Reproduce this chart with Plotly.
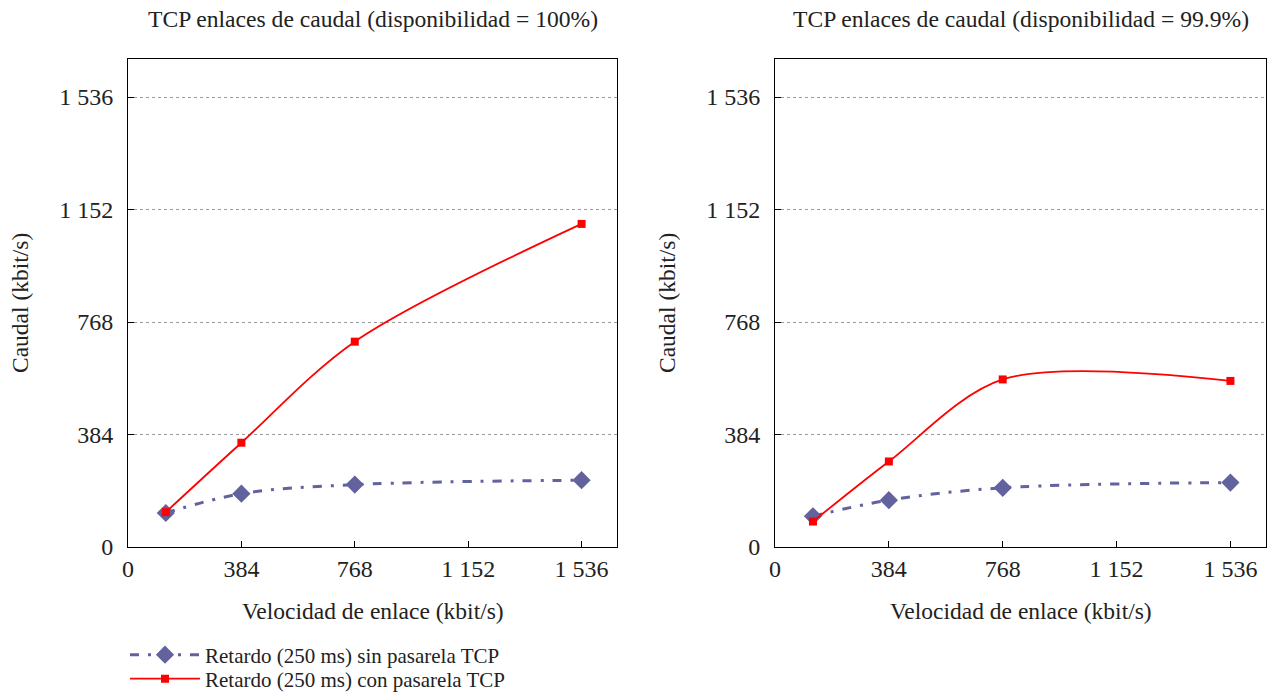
import plotly.graph_objects as go

# Data
link_speed = [128, 384, 768, 1536]
sin_pasarela_100 = [116, 182, 213, 228]
con_pasarela_100 = [119, 356, 701, 1103]
sin_pasarela_999 = [105, 160, 202, 220]
con_pasarela_999 = [87, 292, 572, 567]

tick_vals = [0, 384, 768, 1152, 1536]
tick_text = ["0", "384", "768", "1 152", "1 536"]

titles = ["TCP enlaces de caudal (disponibilidad = 100%)",
          "TCP enlaces de caudal (disponibilidad = 99.9%)"]
x_title = "Velocidad de enlace (kbit/s)"
y_title = "Caudal (kbit/s)"
name_sin = "Retardo (250 ms) sin pasarela TCP"
name_con = "Retardo (250 ms) con pasarela TCP"

BLUE = "#62629e"
RED = "#ff0000"
FONT = "Liberation Serif"
TXT = "#222222"
W, H = 1271, 693

fig = go.Figure()

panels = [
    ("x", "y", sin_pasarela_100, con_pasarela_100, True),
    ("x2", "y2", sin_pasarela_999, con_pasarela_999, False),
]
for xa, ya, sin, con, show in panels:
    fig.add_trace(go.Scatter(
        x=link_speed, y=sin, xaxis=xa, yaxis=ya, name=name_sin, showlegend=show, legend="legend",
        mode="lines+markers", line=dict(color=BLUE, width=3, dash="9px,9px,3px,9px", shape="spline"),
        marker=dict(symbol="diamond", size=14, color=BLUE)))
    fig.add_trace(go.Scatter(
        x=link_speed, y=con, xaxis=xa, yaxis=ya, name=name_con, showlegend=show, legend="legend2",
        mode="lines+markers", line=dict(color=RED, width=1.8, shape="spline", smoothing=0.9),
        marker=dict(symbol="square", size=8, color=RED)))

axcommon = dict(tickvals=tick_vals, ticktext=tick_text, ticks="inside",
                ticklen=6, tickcolor="black", showline=True, linecolor="black", linewidth=1,
                mirror=True, zeroline=False, automargin=False,
                tickfont=dict(family=FONT, size=24, color=TXT))
xcommon = dict(range=[0, 1656], showgrid=False, ticklabelstandoff=0, **axcommon)
ycommon = dict(range=[0, 1666], showgrid=True, gridcolor="#9a9a9a", griddash="3px,3px", gridwidth=1,
               ticklabelstandoff=9, **axcommon)

xd1 = [128 / W, 617 / W]
xd2 = [775 / W, 1266 / W]
yd = [1 - 547 / H, 1 - 59 / H]

annotations = []
for (dom, ttl, ytx) in [(xd1, titles[0], 20), (xd2, titles[1], 667)]:
    cx = (dom[0] + dom[1]) / 2
    annotations.append(dict(text=ttl, x=cx, y=1 - 19 / H, xref="paper", yref="paper",
                            xanchor="center", yanchor="middle", showarrow=False,
                            font=dict(family=FONT, size=23.6, color=TXT)))
    annotations.append(dict(text=x_title, x=cx, y=1 - 611 / H, xref="paper", yref="paper",
                            xanchor="center", yanchor="middle", showarrow=False,
                            font=dict(family=FONT, size=23.5, color=TXT)))
    annotations.append(dict(text=y_title, x=ytx / W, y=(yd[0] + yd[1]) / 2, xref="paper", yref="paper",
                            xanchor="center", yanchor="middle", showarrow=False, textangle=-90,
                            font=dict(family=FONT, size=23.5, color=TXT)))

legfont = dict(family=FONT, size=21, color=TXT)
fig.update_layout(
    width=W, height=H,
    margin=dict(l=0, r=0, t=0, b=0, autoexpand=False),
    paper_bgcolor="white", plot_bgcolor="white",
    font=dict(family=FONT, color=TXT),
    xaxis=dict(domain=xd1, anchor="y", **xcommon),
    yaxis=dict(domain=yd, anchor="x", **ycommon),
    xaxis2=dict(domain=xd2, anchor="y2", **xcommon),
    yaxis2=dict(domain=yd, anchor="x2", **ycommon),
    legend=dict(x=125 / W, y=1 - 655 / H, xanchor="left", yanchor="middle", font=legfont,
                bgcolor="rgba(0,0,0,0)", itemwidth=70),
    legend2=dict(x=125 / W, y=1 - 679 / H, xanchor="left", yanchor="middle", font=legfont,
                 bgcolor="rgba(0,0,0,0)", itemwidth=70),
    annotations=annotations,
)

fig.write_html("out.html")
